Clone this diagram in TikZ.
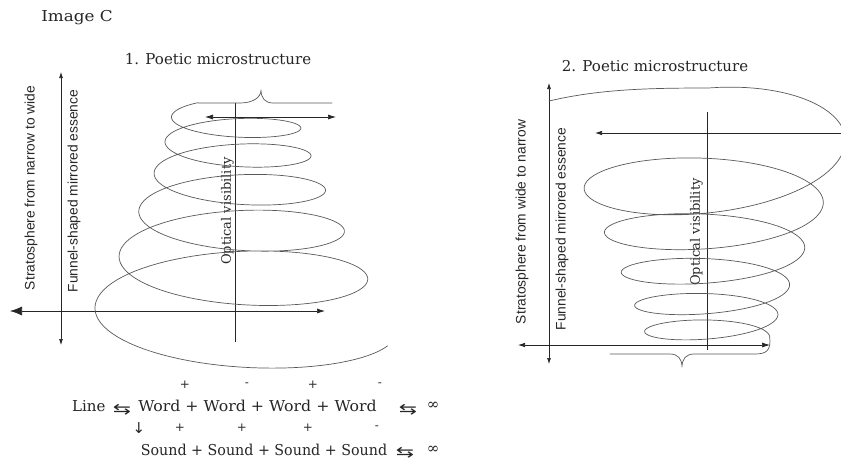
\documentclass[tikz,border=0pt]{standalone}
\usepackage{fontspec}
\setmainfont{DejaVu Serif}
\newfontfamily\labfont{Liberation Sans}
\newfontfamily\symfont{DejaVu Sans}
\usetikzlibrary{arrows.meta}
\begin{document}
\begin{tikzpicture}[x=1pt,y=-1pt,
  spiral/.style={draw=black!65,line width=0.7pt,line join=round,line cap=round},
  axisline/.style={draw=black!85,line width=0.7pt},
  serifT/.style={font=\fontsize{15}{17}\selectfont,text=black!85,inner sep=0pt},
  sideLab/.style={font=\labfont\fontsize{13.8}{16}\selectfont,text=black!85,inner sep=0pt,rotate=90},
  optLab/.style={font=\fontsize{13}{15}\selectfont,text=black!85,inner sep=0pt,rotate=90},
  sign/.style={font=\fontsize{12}{14}\selectfont,text=black!85,inner sep=0pt},
  symT/.style={font=\symfont\fontsize{15}{16}\selectfont,text=black!85,inner sep=0pt}]
\useasboundingbox (0,0) rectangle (841,464);
\fill[white] (0,0) rectangle (841,464);
\clip (0,0) rectangle (841,464);

% titles
\node[serifT] (img) at (77,18) {\scalebox{1.12}[1]{Image C}};
\node[serifT] (t1) at (218,59) {1. Poetic microstructure};
\node[serifT] (t2) at (655,66) {2. Poetic microstructure};

% ---------- figure 1 ----------
\coordinate (v1a) at (61,72);
\coordinate (v1b) at (61,345);
\draw[axisline,{Latex[length=6pt,width=4pt]}-{Latex[length=6pt,width=4pt]}] (v1a) -- (v1b);
\coordinate (h1a) at (10,311);
\coordinate (h1b) at (325,311);
\draw[axisline,{Latex[length=12pt,width=9pt]}-{Latex[length=8pt,width=5pt]}] (h1a) -- (h1b);
\coordinate (s1a) at (205,117);
\coordinate (s1b) at (336,117);
\draw[axisline,{Latex[length=8pt,width=5pt]}-{Latex[length=8pt,width=5pt]}] (s1a) -- (s1b);
\coordinate (o1a) at (235,103);
\coordinate (o1b) at (235,342);
\draw[axisline] (o1a) -- (o1b);

\node[sideLab] (strat1) at (31,188) {Stratosphere from narrow to wide};
\node[sideLab] (funnel1) at (74,191) {Funnel-shaped mirrored essence};
\node[optLab,anchor=south] (opt1) at (234,211) {Optical visibility};

\draw[spiral] (332,103) -- (273,103)
  .. controls (265,103) and (261,98) .. (261,90)
  .. controls (261,98) and (252,103) .. (240,103) -- (198,103)
  -- plot[domain=-0.15:5.46,samples=500,variable=\u]
  ({234.5+0.7*\u+(63+5*\u+2.2*\u*\u)*cos(180-360*\u)},
   {116.9+21.2*\u+3.344*\u*\u+(14+2*\u+0.8*\u*\u)*sin(180-360*\u)});

% ---------- figure 2 ----------
\coordinate (v2a) at (549,83);
\coordinate (v2b) at (549,364);
\draw[axisline,{Latex[length=6pt,width=4pt]}-{Latex[length=6pt,width=4pt]}] (v2a) -- (v2b);
\coordinate (h2a) at (845,133);
\coordinate (h2b) at (595,133);
\draw[axisline,-{Latex[length=7pt,width=4.5pt]}] (h2a) -- (h2b);
\coordinate (b2a) at (518,345);
\coordinate (b2b) at (770,345);
\draw[axisline,{Latex[length=7pt,width=4.5pt]}-{Latex[length=8pt,width=5pt]}] (b2a) -- (b2b);
\coordinate (o2a) at (707,112);
\coordinate (o2b) at (707,350);
\draw[axisline] (o2a) -- (o2b);

\node[sideLab] (strat2) at (522,222) {Stratosphere from wide to narrow};
\node[sideLab] (funnel2) at (562,229) {Funnel-shaped mirrored essence};
\node[optLab,anchor=south] (opt2) at (703,232) {Optical visibility};

\draw[spiral] (549,101) .. controls (600,89) and (650,88) .. (709,88)
  -- plot[domain=0.25:5.5,samples=500,variable=\u]
  ({709+(148.6-25.48*\u+1.728*\u*\u)*cos(180+360*\u)},
   {127.5+58.07*\u-3.544*\u*\u+(12+48*exp(-0.55*\u))*sin(180+360*\u)+(-2-40*exp(-2.5*\u))*cos(180+360*\u)})
  .. controls (771,350) and (767,354) .. (755,354) -- (694,354)
  .. controls (686,354) and (682,359) .. (682,367)
  .. controls (682,359) and (678,354) .. (670,354) -- (610,354);

% ---------- formulas ----------
\node[sign] (p1) at (185,385) {+};
\node[sign] (m1) at (247,385) {-};
\node[sign] (p2) at (313,385) {+};
\node[sign] (m2) at (380,385) {-};

\node[serifT,anchor=west] (lineW) at (72,406) {Line};
\node[symT] (lr1) at (122,410) {\scalebox{1.45}[1]{⇆}};
\node[serifT] (words) at (257.5,406) {\scalebox{1.05}[1]{Word + Word + Word + Word}};
\node[symT] (lr2) at (408,410) {\scalebox{1.45}[1]{⇆}};
\node[serifT] (inf1) at (433,406) {∞};

\node[symT] (down) at (139,428) {↓};
\node[sign] (p3) at (180,428) {+};
\node[sign] (p4) at (242,428) {+};
\node[sign] (p5) at (308,428) {+};
\node[sign] (m3) at (377,428) {-};

\node[serifT] (sounds) at (264,450) {\scalebox{0.95}[1]{Sound + Sound + Sound + Sound}};
\node[symT] (lr3) at (405,453) {\scalebox{1.45}[1]{⇆}};
\node[serifT] (inf2) at (433,450) {∞};
\end{tikzpicture}
\end{document}
